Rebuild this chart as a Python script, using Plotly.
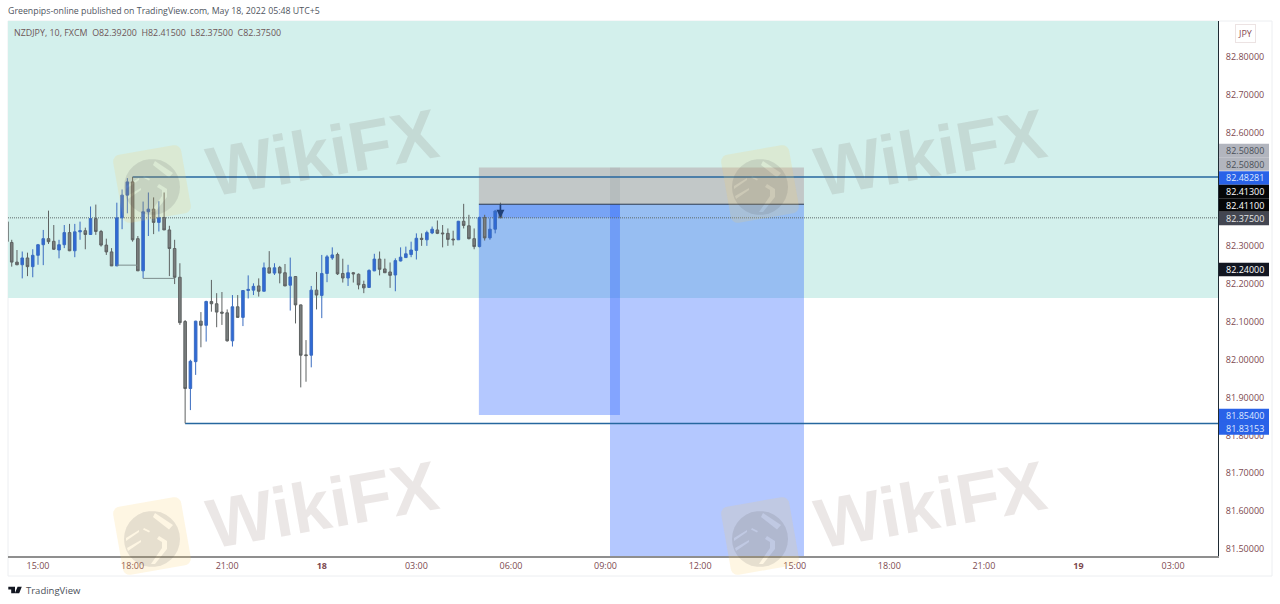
import numpy as np
import pandas as pd
import plotly.graph_objects as go

# ---------- data ----------
bar_index = list(range(-5, 89))
opens = [82.310,82.258,82.251,82.269,82.246,82.276,82.304,82.320,82.313,82.290,82.304,82.336,82.288,82.338,82.341,82.331,82.373,82.339,82.303,82.285,
 82.248,82.375,82.435,82.470,82.320,82.235,82.391,82.398,82.363,82.376,82.343,82.294,82.218,82.101,81.924,81.995,82.102,82.091,82.154,82.148,
 82.126,82.124,82.050,82.140,82.112,82.183,82.184,82.195,82.181,82.243,82.229,82.244,82.230,82.197,82.220,82.145,82.013,82.012,82.184,82.170,
 82.228,82.269,82.278,82.228,82.216,82.230,82.226,82.199,82.191,82.235,82.266,82.240,82.232,82.224,82.261,82.270,82.278,82.289,82.321,82.317,
 82.335,82.343,82.335,82.334,82.319,82.317,82.366,82.354,82.320,82.299,82.376,82.322,82.345,82.392]
highs = [82.317,82.290,82.286,82.283,82.292,82.306,82.343,82.394,82.356,82.317,82.356,82.359,82.359,82.365,82.349,82.405,82.410,82.343,82.320,82.295,
 82.415,82.450,82.480,82.483,82.327,82.418,82.442,82.429,82.419,82.442,82.354,82.317,82.255,82.105,82.000,82.103,82.126,82.156,82.211,82.176,
 82.179,82.133,82.171,82.171,82.184,82.223,82.202,82.215,82.257,82.287,82.255,82.248,82.253,82.270,82.221,82.146,82.052,82.195,82.232,82.277,
 82.277,82.297,82.283,82.267,82.251,82.232,82.228,82.209,82.239,82.280,82.286,82.267,82.257,82.268,82.297,82.299,82.312,82.334,82.334,82.341,
 82.352,82.368,82.356,82.347,82.341,82.367,82.412,82.383,82.347,82.378,82.383,82.374,82.396,82.415]
lows = [82.246,82.250,82.215,82.221,82.218,82.251,82.250,82.306,82.290,82.268,82.295,82.287,82.271,82.317,82.292,82.330,82.330,82.299,82.277,82.248,
 82.248,82.345,82.387,82.312,82.235,82.215,82.327,82.332,82.339,82.343,82.221,82.200,82.092,81.832,81.867,81.960,82.033,82.048,82.127,82.086,
 82.092,82.048,82.035,82.111,82.089,82.162,82.171,82.167,82.181,82.228,82.224,82.202,82.195,82.130,82.096,81.927,81.942,81.980,82.133,82.110,
 82.205,82.264,82.224,82.204,82.195,82.204,82.186,82.176,82.190,82.234,82.223,82.230,82.190,82.181,82.260,82.269,82.271,82.265,82.301,82.301,
 82.332,82.332,82.297,82.301,82.302,82.317,82.347,82.318,82.292,82.297,82.315,82.317,82.334,82.375]
closes = [82.258,82.251,82.269,82.246,82.276,82.304,82.320,82.312,82.292,82.304,82.336,82.288,82.338,82.341,82.331,82.373,82.339,82.303,82.285,82.248,
 82.375,82.435,82.470,82.317,82.235,82.391,82.398,82.363,82.376,82.343,82.294,82.218,82.098,81.924,81.996,82.102,82.091,82.154,82.148,82.126,
 82.123,82.050,82.140,82.112,82.183,82.186,82.194,82.181,82.243,82.229,82.243,82.229,82.195,82.219,82.145,82.012,82.011,82.184,82.171,82.228,
 82.272,82.277,82.227,82.216,82.230,82.227,82.198,82.190,82.236,82.266,82.239,82.230,82.223,82.262,82.271,82.280,82.290,82.321,82.318,82.336,
 82.345,82.334,82.333,82.318,82.317,82.366,82.355,82.320,82.299,82.376,82.322,82.345,82.393,82.375]

y_ticks = [82.8,82.7,82.6,82.3,82.2,82.1,82.0,81.9,81.8,81.7,81.6,81.5]
x_tick_bars = [0,18,36,54,72,90,108,126,144,162,180,198,216]
x_tick_labels = ["15:00","18:00","21:00","18","03:00","06:00","09:00","12:00","15:00","18:00","21:00","19","03:00"]

resistance_level = 82.48281
support_level = 81.83153
last_close = 82.375
entry_level = 82.411
stop_level = 82.508
target_left = 81.854
band_low = 82.163

label_texts = ["82.50800","82.50800","82.48281","82.41300","82.41100","82.37500","82.24000","81.85400","81.83153"]
label_fills = ["#b2b5be","#b2b5be","#2962e8","#050608","#050608","#434651","#131722","#2962e8","#2962e8"]
label_inks  = ["#4a5058","#4a5058","#dfe8ff","#ffffff","#ffffff","#e6e6e6","#ffffff","#dfe8ff","#dfe8ff"]
label_centers_px = [150.5,164,178,191.5,205,218.5,269.5,415.5,428]

# ---------- geometry ----------
W, H = 1280, 604
L, R, T, B = 8, 1218, 21, 556
y_top, y_bot = 82.8951, 81.4815
t0 = pd.Timestamp("2022-05-17 15:00")
PXBAR = 5.255

def bar_time(i):
    return t0 + pd.Timedelta(minutes=10 * float(i))

def px(x):
    return (x - L) / (R - L)

def py(y):
    return (B - y) / (B - T)

x_left = bar_time((L - 38) / PXBAR)
x_right = bar_time((R - 38) / PXBAR)
times = [bar_time(i) for i in bar_index]

fig = go.Figure()

# clipped wick at the left border
fig.add_trace(go.Scatter(x=[bar_time(-5.65)] * 2, y=[82.365, 82.312], mode="lines",
                         line=dict(color="#6a6e6e", width=1), hoverinfo="skip"))

# bracket lines
for a, b, lvl in [(15, 19, 82.250), (20, 26, 82.215)]:
    fig.add_trace(go.Scatter(x=[bar_time(a), bar_time(b)], y=[lvl, lvl], mode="lines",
                             line=dict(color="#7d8c8c", width=1), hoverinfo="skip"))

fig.add_trace(go.Candlestick(
    x=times, open=opens, high=highs, low=lows, close=closes,
    increasing=dict(fillcolor="#2f69d6", line=dict(color="#3a6cc0", width=1)),
    decreasing=dict(fillcolor="#7a7e7e", line=dict(color="#5e6262", width=1)),
    whiskerwidth=0, hoverinfo="skip"))

shapes = []

def rect(x0, x1, y0, y1, fill, layer="below", xref="x", yref="y"):
    shapes.append(dict(type="rect", xref=xref, yref=yref, x0=x0, x1=x1, y0=y0, y1=y1,
                       fillcolor=fill, line=dict(width=0), layer=layer))

def hline(x0, x1, y, color, width, dash="solid"):
    shapes.append(dict(type="line", xref="x", yref="y", x0=x0, x1=x1, y0=y, y1=y,
                       line=dict(color=color, width=width, dash=dash), layer="below"))

# outer border
shapes.append(dict(type="rect", xref="paper", yref="paper", x0=px(8), x1=px(1272), y0=py(576), y1=py(21),
                   line=dict(color="#eceef1", width=1), fillcolor="rgba(0,0,0,0)", layer="below"))

# teal zone
rect(0, 1, band_low, y_top, "#d3f0ec", xref="paper")

# position tools
BLUE = "rgba(41,98,255,0.35)"
GREY = "rgba(171,140,148,0.40)"
rect(bar_time(83.9), bar_time(145.76), entry_level, stop_level, GREY)
rect(bar_time(108.85), bar_time(110.75), entry_level, stop_level, "rgba(110,115,125,0.13)")
rect(bar_time(83.9), bar_time(110.75), target_left, entry_level, BLUE)
rect(bar_time(108.85), bar_time(145.76), y_bot, entry_level, BLUE)
rect(bar_time(83.9), bar_time(110.75), last_close, entry_level, "rgba(41,98,255,0.28)")

# levels
hline(x_left, x_right, last_close, "#5f6a6a", 1, "1px,1px")
hline(bar_time(18), x_right, resistance_level, "#26679f", 1.5)
hline(bar_time(28), x_right, support_level, "#26679f", 1.5)
hline(bar_time(83.9), bar_time(145.76), entry_level, "#2b3a4e", 1)

# ---------- WikiFX watermark ----------
def poly(pts):
    return "M" + " L".join(f"{px(a):.5f},{py(b):.5f}" for a, b in pts) + " Z"

def rotated(points, cx, cy, deg):
    r = np.radians(deg)
    c, s = np.cos(r), np.sin(r)
    return [(cx + a * c - b * s, cy + a * s + b * c) for a, b in points]

def rounded_square(half, rad):
    pts = []
    for (sx, sy, start) in [(1, -1, -90), (1, 1, 0), (-1, 1, 90), (-1, -1, 180)]:
        for ang in np.linspace(start, start + 90, 7):
            pts.append((sx * (half - rad) + rad * np.cos(np.radians(ang)),
                        sy * (half - rad) + rad * np.sin(np.radians(ang))))
    return pts

disc = [(28 * np.cos(np.radians(a)), 28 * np.sin(np.radians(a))) for a in np.arange(0, 360, 12)]
eagle_holes = [
    [(3, -26), (21, -14), (17, -9.5), (1, -22)],
    [(7, -3), (15, 2), (15, 10), (3, 25), (-1, 25), (10, 9), (10, 3), (5, 0)],
    [(-8, -11), (-2, -8), (-3, -6.5), (-9, -9.5)],
    [(-26, -1), (-13, -9), (-13, -7), (-26, 2)],
    [(-25, 9), (-11, 1), (-11, 3), (-24, 12)],
]

annotations = []
for ox, oy in [(0, 0), (608, 0), (0, 352), (608, 352)]:
    cx, cy = 152 + ox, 185 + oy
    shapes.append(dict(type="path", xref="paper", yref="paper", layer="above",
                       path=poly(rotated(rounded_square(34.5, 7), cx, cy - 1, -10)),
                       fillcolor="rgba(250,205,100,0.18)", line=dict(width=0)))
    d = poly(rotated(disc, cx, cy + 2, 0))
    for hole in eagle_holes:
        d += " " + poly(rotated(hole, cx, cy + 2, 0))
    shapes.append(dict(type="path", xref="paper", yref="paper", layer="above", path=d,
                       fillcolor="rgba(70,70,75,0.13)", line=dict(width=0)))
    annotations.append(dict(xref="paper", yref="paper", x=px(322 + ox), y=py(153 + oy),
                            text="<b>WikiFX</b>", showarrow=False, textangle=-10,
                            font=dict(family="Liberation Sans", size=70, color="rgba(100,70,60,0.13)"),
                            xanchor="center", yanchor="middle"))

# ---------- TradingView logo ----------
tv = poly([(8.3, 586.8), (15, 586.8), (15, 593.2), (11.2, 593.2), (11.2, 589.6), (8.3, 589.6)])
tv += " " + poly([(17.6, 586.8), (21.8, 586.8), (19.2, 593.2), (14.8, 593.2)])
shapes.append(dict(type="path", xref="paper", yref="paper", path=tv, fillcolor="#131722",
                   line=dict(width=0), layer="above"))

# ---------- price labels ----------
FONT = "Open Sans"
for txt, fill, ink, c in zip(label_texts, label_fills, label_inks, label_centers_px):
    rect(px(1219), px(1269), py(c + 6.7), py(c - 6.7), fill, layer="above", xref="paper", yref="paper")
for txt, fill, ink, c in zip(label_texts, label_fills, label_inks, label_centers_px):
    annotations.append(dict(xref="paper", yref="paper", x=px(1244.5), y=py(c), text=txt, showarrow=False,
                            xanchor="center", yanchor="middle",
                            font=dict(family=FONT, size=9, color=ink)))

annotations += [
    dict(xref="paper", yref="paper", x=px(8), y=py(11), text="Greenpips-online published on TradingView.com, May 18, 2022 05:48 UTC+5",
         showarrow=False, xanchor="left", yanchor="middle", xshift=-2, font=dict(family=FONT, size=8.8, color="#4f5560")),
    dict(xref="paper", yref="paper", x=px(14), y=py(32), text="NZDJPY, 10, FXCM  O82.39200  H82.41500  L82.37500  C82.37500",
         showarrow=False, xanchor="left", yanchor="middle", xshift=-2, font=dict(family=FONT, size=8.9, color="#6d5658")),
    dict(xref="paper", yref="paper", x=px(26), y=py(590), text="TradingView", showarrow=False,
         xanchor="left", yanchor="middle", xshift=-2, font=dict(family=FONT, size=9.5, color="#4a4f58")),
    dict(xref="paper", yref="paper", x=px(1245.5), y=py(33), text="JPY", showarrow=False, xanchor="center", yanchor="middle",
         font=dict(family=FONT, size=9, color="#8a4a52"), bordercolor="#ece3e3", borderwidth=1, borderpad=2, bgcolor="#ffffff"),
    dict(xref="x", yref="y", x=bar_time(88), y=last_close, text="", showarrow=True, arrowhead=2, arrowsize=1,
         arrowwidth=1.6, arrowcolor="#1f3f78", ax=0, ay=-15, axref="pixel", ayref="pixel"),
]

fig.update_layout(
    width=W, height=H, autosize=False,
    margin=dict(l=L, r=W - R, t=T, b=H - B, pad=0),
    paper_bgcolor="#ffffff", plot_bgcolor="#ffffff",
    showlegend=False, shapes=shapes, annotations=annotations,
    font=dict(family=FONT, size=9, color="#7d4a50"),
    xaxis=dict(type="date", range=[x_left, x_right], rangeslider=dict(visible=False),
               tickmode="array", tickvals=[bar_time(i) for i in x_tick_bars],
               ticktext=[f"<b>{t}</b>" if len(t) == 2 else t for t in x_tick_labels],
               showgrid=False, zeroline=False, showline=True, linecolor="#8f8f8f", linewidth=2,
               ticks="", tickfont=dict(family=FONT, size=9, color="#7d4a50")),
    yaxis=dict(side="right", range=[y_bot, y_top], tickmode="array", tickvals=y_ticks,
               tickformat=".5f", showgrid=False, zeroline=False, showline=True, linecolor="#1f2a33",
               linewidth=1, ticks="", ticklabelstandoff=5,
               tickfont=dict(family=FONT, size=9, color="#7d4a50")),
)

fig.write_html("out.html", config=dict(displayModeBar=False),
               post_script="document.body.style.margin='0';document.body.style.overflow='hidden';")
